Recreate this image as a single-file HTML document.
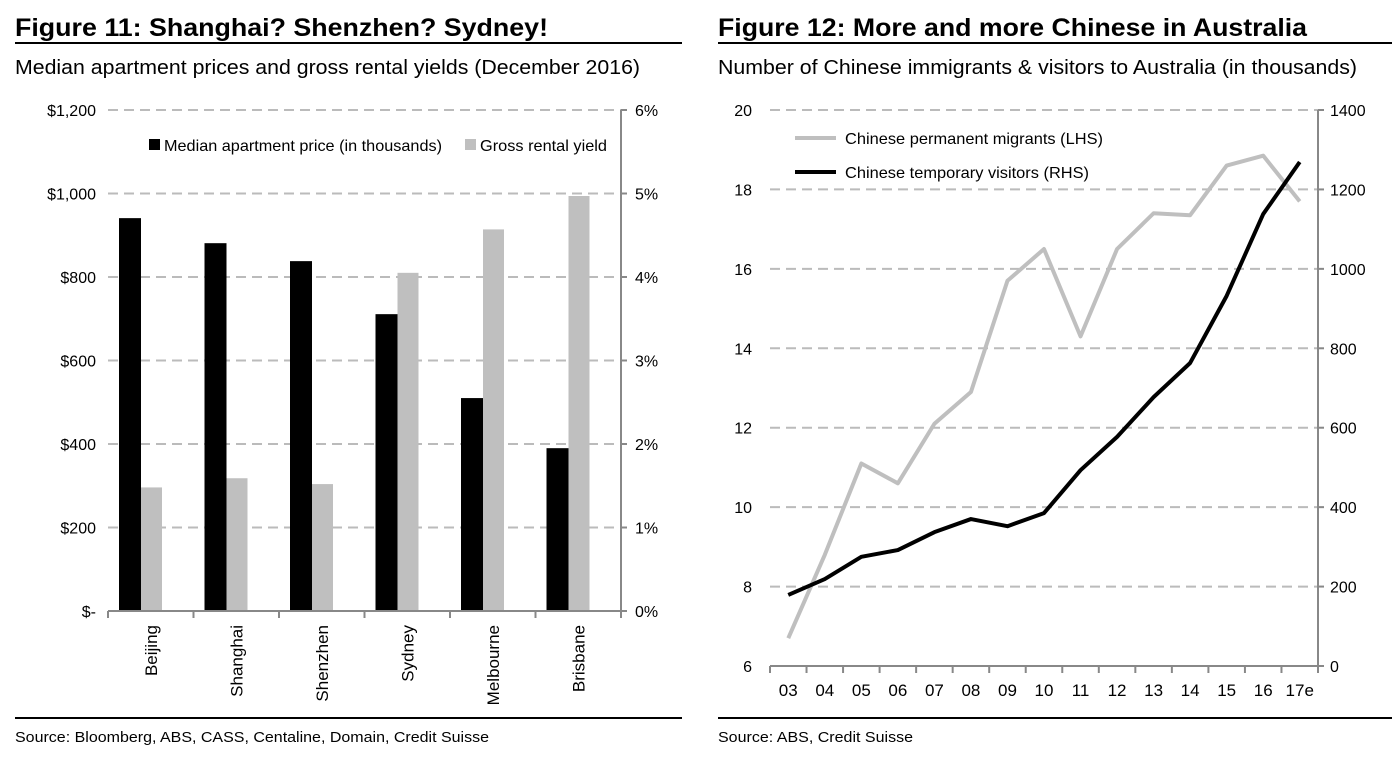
<!DOCTYPE html>
<html><head><meta charset="utf-8">
<style>
body{margin:0;background:#fff;font-family:"Liberation Sans",Arial,sans-serif;}
svg text{font-family:"Liberation Sans",Arial,sans-serif;}
</style></head>
<body>
<svg id="s" width="1392" height="765" viewBox="0 0 1392 765" xmlns="http://www.w3.org/2000/svg">
<text x="15" y="36" font-size="25" font-weight="bold" textLength="533" lengthAdjust="spacingAndGlyphs">Figure 11: Shanghai? Shenzhen? Sydney!</text>
<line x1="15" y1="43" x2="682" y2="43" stroke="#000" stroke-width="2"/>
<text x="15" y="74" font-size="20" textLength="625" lengthAdjust="spacingAndGlyphs">Median apartment prices and gross rental yields (December 2016)</text>
<text x="718" y="36" font-size="25" font-weight="bold" textLength="589" lengthAdjust="spacingAndGlyphs">Figure 12: More and more Chinese in Australia</text>
<line x1="718" y1="43" x2="1392" y2="43" stroke="#000" stroke-width="2"/>
<text x="718" y="74" font-size="20" textLength="639" lengthAdjust="spacingAndGlyphs">Number of Chinese immigrants &amp; visitors to Australia (in thousands)</text>
<line x1="15" y1="718" x2="682" y2="718" stroke="#000" stroke-width="2"/>
<line x1="718" y1="718" x2="1392" y2="718" stroke="#000" stroke-width="2"/>
<text x="15" y="742" font-size="15" textLength="474" lengthAdjust="spacingAndGlyphs">Source: Bloomberg, ABS, CASS, Centaline, Domain, Credit Suisse</text>
<text x="718" y="742" font-size="15" textLength="195" lengthAdjust="spacingAndGlyphs">Source: ABS, Credit Suisse</text>
<g id="c1"></g><g id="c2"></g>
</svg>
<script>
const cities=["Beijing","Shanghai","Shenzhen","Sydney","Melbourne","Brisbane"];
const prices=[941,881,838,711,510,390];
const yields=[1.48,1.59,1.52,4.05,4.57,4.97];
const priceTicks=["$-","$200","$400","$600","$800","$1,000","$1,200"];
const yieldTicks=["0%","1%","2%","3%","4%","5%","6%"];
const years=["03","04","05","06","07","08","09","10","11","12","13","14","15","16","17e"];
const migrants=[6.7,8.8,11.1,10.6,12.1,12.9,15.7,16.5,14.3,16.5,17.4,17.35,18.6,18.85,17.7];
const visitors=[179,219,275,292,337,370,352,385,493,577,677,763,932,1138,1269];
const lhsTicks=[6,8,10,12,14,16,18,20];
const rhsTicks=[0,200,400,600,800,1000,1200,1400];
const NS="http://www.w3.org/2000/svg";
function mk(p,t,a){const e=document.createElementNS(NS,t);for(const k in a)e.setAttribute(k,a[k]);p.appendChild(e);return e;}
// chart 1
const c1=document.getElementById('c1');
const L1=108,R1=621,T1=110,B1=611;
const yP=v=>B1-(v/1200)*(B1-T1);
const yY=v=>B1-(v/6)*(B1-T1);
const cw=(R1-L1)/cities.length;
priceTicks.forEach((t,i)=>{const y=B1-i*(B1-T1)/6;
 if(i>0){const g=mk(c1,'line',{x1:L1,x2:R1,y1:y,y2:y,stroke:'#bbb','stroke-width':2,'stroke-dasharray':'10,6'});
 }
 const tx=mk(c1,'text',{x:96,y:y+6,'font-size':16,'text-anchor':'end'});tx.textContent=t;
 
 const tk=mk(c1,'line',{x1:R1,x2:R1+6,y1:y,y2:y,stroke:'#888','stroke-width':2});
 
 const t2=mk(c1,'text',{x:R1+14,y:y+6,'font-size':16});t2.textContent=yieldTicks[i];
 
});
cities.forEach((c,i)=>{const x0=L1+i*cw;
 const b=mk(c1,'rect',{x:x0+11,y:yP(prices[i]),width:22,height:B1-yP(prices[i]),fill:'#000'});
 
 const g=mk(c1,'rect',{x:x0+33,y:yY(yields[i]),width:21,height:B1-yY(yields[i]),fill:'#bfbfbf'});
 
 const tx=mk(c1,'text',{x:0,y:0,'font-size':17,'text-anchor':'end',transform:`translate(${x0+cw/2+6},${B1+14}) rotate(-90)`});tx.textContent=c;
 
});
for(let i=0;i<=cities.length;i++){const x=L1+i*cw;const t=mk(c1,'line',{x1:x,x2:x,y1:B1,y2:B1+7,stroke:'#888','stroke-width':2});
 }
let a=mk(c1,'line',{x1:L1,x2:R1,y1:B1,y2:B1,stroke:'#888','stroke-width':2});
a=mk(c1,'line',{x1:R1,x2:R1,y1:T1,y2:B1,stroke:'#888','stroke-width':2});
let lg=mk(c1,'rect',{x:149,y:139,width:11,height:11,fill:'#000'});
lg=mk(c1,'text',{x:164,y:151,'font-size':16,textLength:278,lengthAdjust:'spacingAndGlyphs'});lg.textContent='Median apartment price (in thousands)';
lg=mk(c1,'rect',{x:465,y:139,width:11,height:11,fill:'#bfbfbf'});
lg=mk(c1,'text',{x:480,y:151,'font-size':16,textLength:127,lengthAdjust:'spacingAndGlyphs'});lg.textContent='Gross rental yield';
// chart 2
const c2=document.getElementById('c2');
const L2=770,R2=1318,T2=110,B2=666;
const yL=v=>B2-(v-6)/14*(B2-T2);
const yR=v=>B2-v/1400*(B2-T2);
const xw=(R2-L2)/years.length;
const xC=i=>L2+xw*(i+0.5);
lhsTicks.forEach((t,i)=>{const y=yL(t);
 if(i>0){const g=mk(c2,'line',{x1:L2,x2:R2,y1:y,y2:y,stroke:'#bbb','stroke-width':2,'stroke-dasharray':'10,6'});
 }
 const tx=mk(c2,'text',{x:752,y:y+6,'font-size':16,'text-anchor':'end'});tx.textContent=t;
 
});
rhsTicks.forEach(t=>{const y=yR(t);
 const tk=mk(c2,'line',{x1:R2,x2:R2+6,y1:y,y2:y,stroke:'#888','stroke-width':2});
 const tx=mk(c2,'text',{x:R2+12,y:y+6,'font-size':16});tx.textContent=t;
});
years.forEach((yv,i)=>{const tx=mk(c2,'text',{x:xC(i),y:B2+30,'font-size':17,'text-anchor':'middle'});tx.textContent=yv;
 });
for(let i=0;i<=years.length;i++){const x=L2+i*xw;const t=mk(c2,'line',{x1:x,x2:x,y1:B2,y2:B2+7,stroke:'#888','stroke-width':2});
 }
a=mk(c2,'line',{x1:L2,x2:R2,y1:B2,y2:B2,stroke:'#888','stroke-width':2});
a=mk(c2,'line',{x1:R2,x2:R2,y1:T2,y2:B2,stroke:'#888','stroke-width':2});
let p=mk(c2,'polyline',{points:migrants.map((v,i)=>xC(i)+','+yL(v)).join(' '),fill:'none',stroke:'#bfbfbf','stroke-width':4,'stroke-linejoin':'round'});

p=mk(c2,'polyline',{points:visitors.map((v,i)=>xC(i)+','+yR(v)).join(' '),fill:'none',stroke:'#000','stroke-width':4,'stroke-linejoin':'round'});

lg=mk(c2,'line',{x1:795,x2:836,y1:138,y2:138,stroke:'#bfbfbf','stroke-width':4});
lg=mk(c2,'text',{x:845,y:144,'font-size':16,textLength:258,lengthAdjust:'spacingAndGlyphs'});lg.textContent='Chinese permanent migrants (LHS)';
lg=mk(c2,'line',{x1:795,x2:836,y1:172,y2:172,stroke:'#000','stroke-width':4});
lg=mk(c2,'text',{x:845,y:178,'font-size':16,textLength:244,lengthAdjust:'spacingAndGlyphs'});lg.textContent='Chinese temporary visitors (RHS)';
</script>
</body></html>
